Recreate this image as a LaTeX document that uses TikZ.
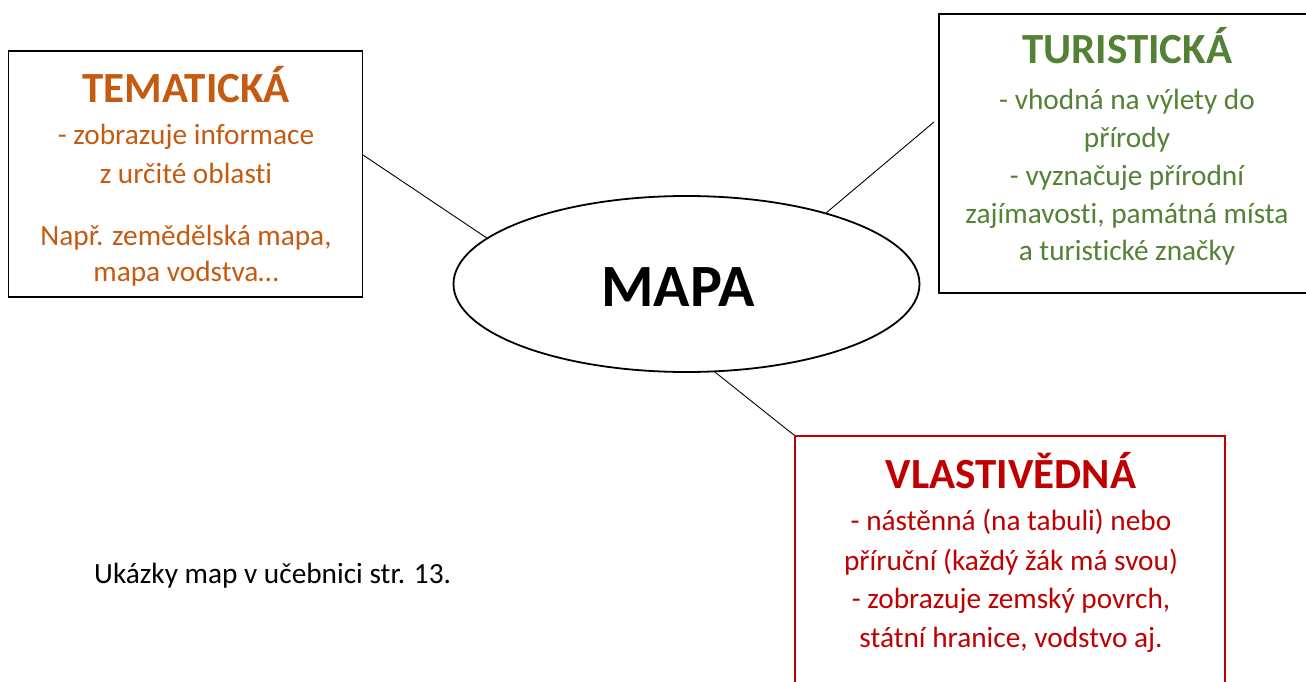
\documentclass[tikz,border=0pt]{standalone}
\usepackage{fontspec}
\setmainfont{Carlito}[Ligatures=NoCommon]
\usetikzlibrary{shapes.geometric}
\definecolor{tOrange}{HTML}{C55A11}
\definecolor{tGreen}{HTML}{538135}
\definecolor{tRed}{HTML}{C00000}
\tikzset{
  box/.style={draw, line width=1.3pt, inner sep=0pt},
  head/.style={anchor=base, inner sep=0pt, font=\fontsize{43}{50}\selectfont\bfseries},
  body/.style={anchor=base, inner sep=0pt, font=\fontsize{29.3}{34}\selectfont},
  conn/.style={line width=0.9pt},
}
\begin{document}
\begin{tikzpicture}[x=1pt,y=-1pt]
\useasboundingbox (0,0) rectangle (1306,682);
% boxes
\node[box, minimum width=354pt, minimum height=246pt] (tem) at (185.5,174) {};
\node[box, minimum width=376pt, minimum height=279pt] (tur) at (1127,153.5) {};
\node[box, draw=tRed, minimum width=430pt, minimum height=264pt] (vla) at (1010,568) {};
% ellipse
\node[ellipse, draw, line width=1.8pt, minimum width=466pt, minimum height=176pt, inner sep=0pt] (mapa) at (686.5,284) {};
\node[anchor=base, inner sep=0pt, font=\fontsize{60}{64}\selectfont\bfseries] (mapat) at (678,306) {MAPA};
% connectors
\coordinate (temc) at (363,155);
\coordinate (turc) at (934,122);
\draw[conn] (temc) -- (mapa.167.8);
\draw[conn] (turc) -- (mapa.27.4);
\draw[conn] (mapa.-72.6) -- (vla.north west);
% TEMATICKA
\begin{scope}[text=tOrange]
\node[head] (t0) at (186,103) {TEMATICKÁ};
\node[body] (t1) at (186,144) {- zobrazuje informace};
\node[body] (t2) at (186,183) {z určité oblasti};
\node[body] (t3) at (186,245) {Např. zemědělská mapa,};
\node[body] (t4) at (186,281) {mapa vodstva…};
\end{scope}
% TURISTICKA
\begin{scope}[text=tGreen]
\node[head] (u0) at (1127,64) {TURISTICKÁ};
\node[body] (u1) at (1127,110) {- vhodná na výlety do};
\node[body] (u2) at (1127,147) {přírody};
\node[body] (u3) at (1127,185) {- vyznačuje přírodní};
\node[body] (u4) at (1127,223) {zajímavosti, památná místa};
\node[body] (u5) at (1127,260) {a turistické značky};
\end{scope}
% VLASTIVEDNA
\begin{scope}[text=tRed]
\node[head] (v0) at (1011,488) {VLASTIVĚDNÁ};
\node[body] (v1) at (1011,530) {- nástěnná (na tabuli) nebo};
\node[body] (v2) at (1011,570) {příruční (každý žák má svou)};
\node[body] (v3) at (1011,608) {- zobrazuje zemský povrch,};
\node[body] (v4) at (1011,647) {státní hranice, vodstvo aj.};
\end{scope}
\node[body, anchor=base west] (uk) at (94,583) {Ukázky map v učebnici str. 13.};
\end{tikzpicture}
\end{document}
